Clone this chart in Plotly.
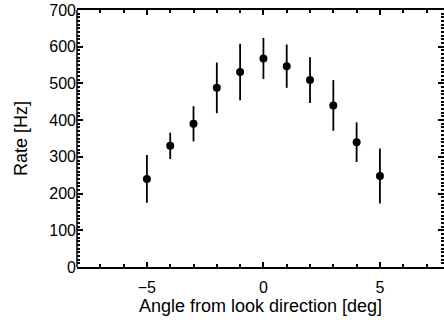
import plotly.graph_objects as go

angle = [-5, -4, -3, -2, -1, 0, 1, 2, 3, 4, 5]
rate = [240, 330, 390, 488, 531, 568, 547, 509, 440, 340, 248]
rate_err = [65, 36, 48, 69, 77, 56, 59, 62, 69, 54, 75]

FONT = "Liberation Sans, Arial, Helvetica, sans-serif"

fig = go.Figure()
fig.add_trace(go.Scatter(
    x=angle, y=rate, mode="markers",
    marker=dict(color="black", size=8, symbol="circle"),
    error_y=dict(type="data", array=rate_err, visible=True,
                 color="black", thickness=1.8, width=0),
    showlegend=False,
))

fig.update_layout(
    width=444, height=320,
    margin=dict(l=77, r=0, t=10, b=53),
    paper_bgcolor="white", plot_bgcolor="white",
    font=dict(family=FONT, size=16, color="black"),
    xaxis=dict(
        range=[-8, 7.75], tickmode="linear", tick0=0, dtick=5,
        ticks="inside", ticklen=5, tickwidth=1.5, tickcolor="black",
        minor=dict(dtick=1, ticks="inside", ticklen=3),
        showline=True, linewidth=1.5, linecolor="black", mirror="ticks",
        showgrid=False, zeroline=False,
        ticklabelstandoff=5,
        title=dict(text="Angle from look direction [deg]", font=dict(size=18), standoff=3),
        tickfont=dict(size=16),
    ),
    yaxis=dict(
        range=[0, 700], tickmode="linear", tick0=0, dtick=100,
        ticks="inside", ticklen=6, tickwidth=1.5, tickcolor="black",
        minor=dict(dtick=10, ticks="inside", ticklen=3),
        showline=False, mirror="ticks",
        showgrid=False, zeroline=False,
        title=dict(text="Rate [Hz]", font=dict(size=18), standoff=16),
        tickfont=dict(size=16),
    ),
    shapes=[dict(type="line", xref="paper", yref="paper", x0=0, x1=0, y0=0, y1=1,
                 line=dict(color="black", width=1.5))],
)

fig.write_html("out.html")
